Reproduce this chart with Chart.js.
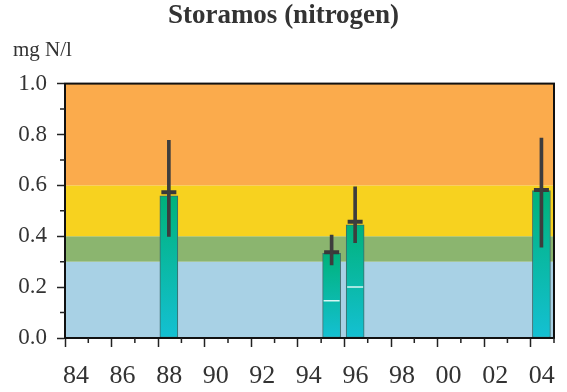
<!DOCTYPE html>
<html>
<head>
<meta charset="utf-8">
<script src="https://cdn.jsdelivr.net/npm/chart.js@4"></script>
<style>
  html, body { margin: 0; padding: 0; background: #fff; }
  canvas { display: block; }
</style>
</head>
<body>
<canvas id="nitrogen" width="567" height="392"></canvas>
<script>
// sampling years (bars sit roughly mid-year)
const years = [1988, 1995, 1996, 2004];
const barX = [1988.46, 1995.45, 1996.46, 2004.46];

// values in mg N/l
const means = [0.559, 0.333, 0.445, 0.579];
const medians = [0.573, 0.337, 0.457, 0.582];
const lows = [0.399, 0.287, 0.375, 0.357];
const highs = [0.777, 0.405, 0.594, 0.786];
const innerLine = [null, 0.146, 0.2, null];

// class limits for the coloured background
const bandLimits = [0, 0.3, 0.4, 0.6, 1.0];
const bandColors = ['#a8d1e5', '#8bb56f', '#f7d21f', '#fbab4c'];

// axis ticks
const xTickYears = [1984, 1986, 1988, 1990, 1992, 1994, 1996, 1998, 2000, 2002, 2004];
const xMinor = [1985, 1987, 1989, 1991, 1993, 1995, 1997, 1999, 2001, 2003, 2005];
const yMinor = [0.1, 0.3, 0.5, 0.7, 0.9];

const serif = "'Liberation Serif', 'DejaVu Serif', serif";

const bandsPlugin = {
  id: 'bands',
  beforeDatasetsDraw(chart) {
    const { ctx, chartArea, scales } = chart;
    ctx.save();
    for (let i = 0; i < bandColors.length; i++) {
      const y1 = scales.y.getPixelForValue(bandLimits[i + 1]);
      const y0 = scales.y.getPixelForValue(bandLimits[i]);
      ctx.fillStyle = bandColors[i];
      ctx.fillRect(chartArea.left, y1, chartArea.right - chartArea.left, y0 - y1);
    }
    ctx.restore();
  },
  afterDatasetsDraw(chart) {
    const { ctx, chartArea, scales } = chart;
    ctx.save();
    ctx.strokeStyle = '#111';
    ctx.lineWidth = 2;
    ctx.strokeRect(chartArea.left, chartArea.top, chartArea.right - chartArea.left, chartArea.bottom - chartArea.top);
    // minor ticks
    ctx.lineWidth = 1.5;
    ctx.strokeStyle = '#222';
    ctx.beginPath();
    yMinor.forEach(v => {
      const y = scales.y.getPixelForValue(v);
      ctx.moveTo(chartArea.left - 5, y);
      ctx.lineTo(chartArea.left, y);
    });
    xMinor.forEach(v => {
      const x = scales.x.getPixelForValue(v);
      ctx.moveTo(x, chartArea.bottom);
      ctx.lineTo(x, chartArea.bottom + 5);
    });
    ctx.stroke();
    ctx.restore();
  }
};

const barGradient = (c) => {
  const chart = c.chart;
  if (!chart.chartArea || c.type !== 'data') return '#00b27c';
  const top = chart.scales.y.getPixelForValue(c.raw.y);
  const bottom = chart.scales.y.getPixelForValue(0);
  const g = chart.ctx.createLinearGradient(0, top, 0, bottom);
  g.addColorStop(0, '#00b27a');
  g.addColorStop(1, '#14c0d3');
  return g;
};

new Chart(document.getElementById('nitrogen'), {
  type: 'bar',
  data: {
    datasets: [
      {
        type: 'bar',
        label: 'range',
        data: barX.map((x, i) => ({ x: x, y: [lows[i], highs[i]] })),
        backgroundColor: '#3d3d3d',
        barThickness: 3,
        grouped: false
      },
      {
        type: 'line',
        label: 'marker',
        data: barX.map((x, i) => ({ x: x, y: medians[i] })),
        showLine: false,
        pointStyle: 'line',
        pointRadius: 7.5,
        pointBorderWidth: 4,
        pointBorderColor: '#3a3a3a'
      },
      {
        type: 'line',
        label: 'inner',
        data: barX.map((x, i) => ({ x: x, y: innerLine[i] })),
        showLine: false,
        pointStyle: 'line',
        pointRadius: 8,
        pointBorderWidth: 1.5,
        pointBorderColor: '#d8f6f4'
      },
      {
        type: 'bar',
        label: 'mean',
        data: barX.map((x, i) => ({ x: x, y: means[i] })),
        backgroundColor: barGradient,
        borderColor: '#3f6a6a',
        borderWidth: 1,
        borderSkipped: false,
        barThickness: 18,
        grouped: false
      }
    ]
  },
  options: {
    responsive: false,
    animation: false,
    layout: { padding: { left: 13, right: 13, top: 0, bottom: 0 } },
    plugins: {
      legend: { display: false },
      tooltip: { enabled: false },
      title: {
        display: true,
        text: 'Storamos (nitrogen)',
        color: '#333',
        font: { family: serif, size: 27, weight: 'bold' },
        padding: { top: 0, bottom: 5 }
      },
      subtitle: {
        display: true,
        text: 'mg N/l',
        align: 'start',
        color: '#333',
        font: { family: serif, size: 21 },
        padding: { top: 0, bottom: 21 }
      }
    },
    scales: {
      x: {
        type: 'linear',
        offset: false,
        min: 1984,
        max: 2005,
        afterBuildTicks: (s) => { s.ticks = xTickYears.map(v => ({ value: v })); },
        afterFit: (s) => { s.height = 54; },
        ticks: {
          autoSkip: false,
          color: '#333',
          font: { family: serif, size: 26 },
          padding: 14,
          labelOffset: 11,
          maxRotation: 0,
          callback: (v) => String(v % 100).padStart(2, '0')
        },
        grid: { drawOnChartArea: false, offset: false, tickLength: 9, tickColor: '#222', tickWidth: 1.5 },
        border: { color: '#111', width: 2 }
      },
      y: {
        min: 0,
        max: 1,
        afterFit: (s) => { s.width = 52; },
        ticks: {
          stepSize: 0.2,
          color: '#333',
          font: { family: serif, size: 23 },
          padding: 10,
          callback: (v) => v.toFixed(1)
        },
        grid: { drawOnChartArea: false, tickLength: 8, tickColor: '#222', tickWidth: 1.5 },
        border: { color: '#111', width: 2 }
      }
    }
  },
  plugins: [bandsPlugin]
});
</script>
</body>
</html>
